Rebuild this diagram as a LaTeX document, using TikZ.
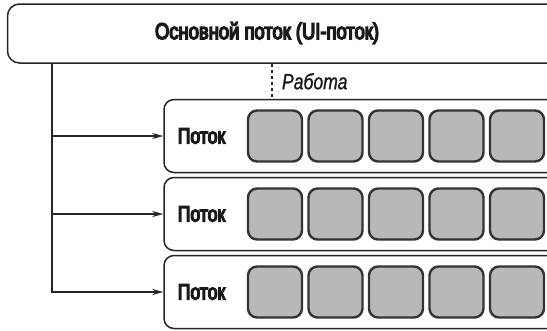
\documentclass[tikz,border=0pt]{standalone}
\usepackage{fontspec}
\setmainfont{Liberation Sans}[FakeStretch=0.8, FakeBold=6]
\newfontfamily\worklight{Liberation Sans}[FakeStretch=0.8, FakeBold=1]
\usepackage{tikz}
\usetikzlibrary{arrows.meta, positioning, calc}
\tikzset{base-box/.style = {
	rectangle, rounded corners=10pt,
	draw=black!85, line width=1.5pt,
	fill=white, inner sep=0pt
	}}
\tikzset{mainbox/.style = {base-box, rounded corners=12pt, minimum width=553pt, minimum height=59pt}}
\tikzset{threadbox/.style = {base-box, minimum width=396pt, minimum height=73pt}}
\tikzset{cell/.style = {
	rectangle, rounded corners=9pt,
	draw=black!80, line width=2.4pt,
	fill=black!28,
	minimum width=54pt, minimum height=51pt
	}}
\tikzset{arrow/.style = {
	-{Stealth[length=11pt, width=6pt]},
	line width=1.8pt, draw=black!85
	}}
\tikzset{label/.style = {font=\fontsize{22}{26}\selectfont, text=black!90}}

\begin{document}
\begin{tikzpicture}[x=1pt, y=-1pt]

	% Frame
	\clip (0,0) rectangle (547,330);
	\fill[white] (0,0) rectangle (547,330);

	% Main thread
	\node[mainbox] (main) at (284,33.5) {};
	\node[label, font=\fontsize{23}{27}\selectfont] (maintext) at (267,33) {Основной поток (UI-поток)};

	% Worker threads
	\foreach \i/\y in {1/136, 2/214, 3/292}
	{
		\node[threadbox] (thread\i) at (362,\y) {};
		\node[label, right=11pt of thread\i.west] (name\i) {Поток};
		\foreach \k in {0,...,4}
		{
			\node[cell] (cell\i\k) at ({275+60.5*\k},\y) {};
		}
	}

	% Connections
	\coordinate (trunk) at (52,0);
	\coordinate (work) at (272,0);
	\foreach \i in {1,2,3}
	{
		\draw[arrow] (main.south -| trunk) |- (thread\i.west);
	}
	\draw[dashed, line width=1.3pt, black!85] (main.south -| work) -- (thread1.north -| work)
		node [midway, right=6pt, label, font=\fontsize{22}{26}\selectfont\worklight\itshape] (worklabel) {Работа};

\end{tikzpicture}
\end{document}
